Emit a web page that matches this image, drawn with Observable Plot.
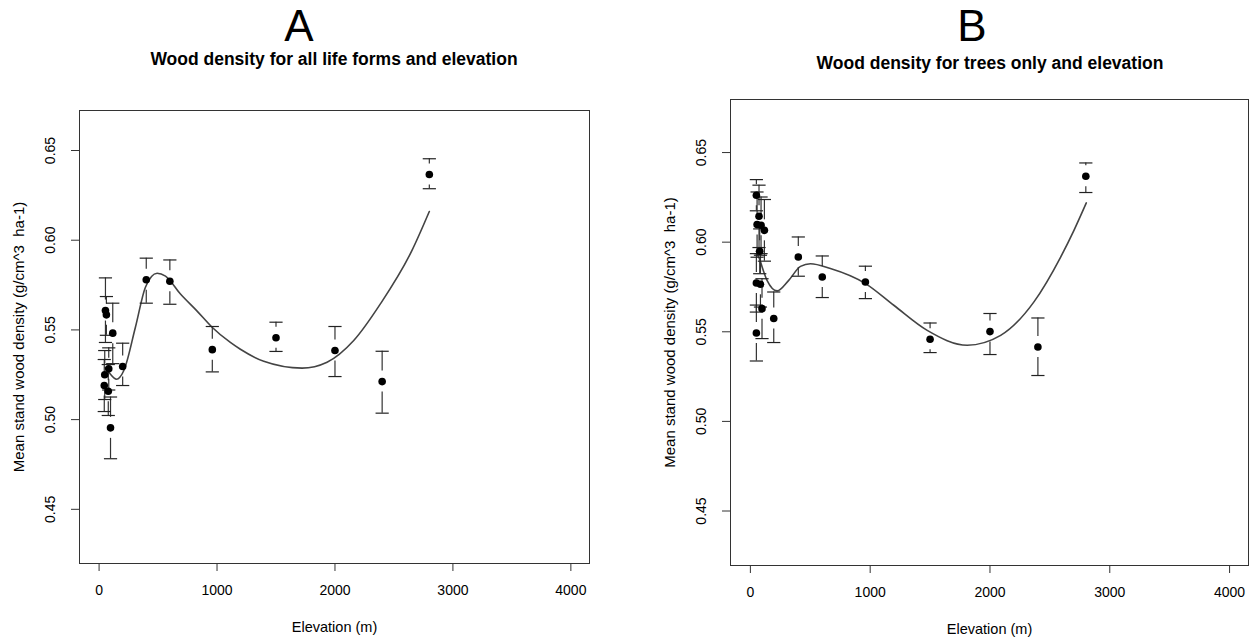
<!DOCTYPE html>
<html>
<head>
<meta charset="utf-8">
<script src="https://cdn.jsdelivr.net/npm/d3@7"></script>
<script src="https://cdn.jsdelivr.net/npm/@observablehq/plot@0.6"></script>
<style>
  html, body { margin: 0; padding: 0; background: #fff; }
  #page { position: relative; width: 1256px; height: 640px; overflow: hidden; font-family: "Liberation Sans", Arial, sans-serif; }
  .subtitle { position: absolute; font-weight: bold; font-size: 17.5px; line-height: 1; color: #000; transform: translateX(-50%); white-space: nowrap; }
  .panel, .letters { position: absolute; }
</style>
</head>
<body>
<div id="page"></div>
<script>
// Panel A: all life forms
const elevA = [54, 62, 116, 82, 48, 44, 78, 97, 200, 400, 600, 960, 1500, 2000, 2400, 2800];
const densA = [0.5608, 0.5584, 0.5482, 0.5283, 0.5250, 0.5190, 0.5158, 0.4954, 0.5296, 0.5780, 0.5771, 0.5390, 0.5456, 0.5385, 0.5212, 0.6366];
const lowA  = [0.5430, 0.5470, 0.5312, 0.5165, 0.5112, 0.5045, 0.5023, 0.4782, 0.5190, 0.5649, 0.5643, 0.5266, 0.5380, 0.5240, 0.5036, 0.6287];
const highA = [0.5790, 0.5686, 0.5649, 0.5400, 0.5385, 0.5335, 0.5307, 0.5126, 0.5426, 0.5900, 0.5890, 0.5519, 0.5543, 0.5519, 0.5381, 0.6454];
// fitted trend, panel A
const fitElevA = [50, 82, 148, 210, 308, 393, 492, 563, 690, 831, 958, 1113, 1198, 1396, 1721, 1933, 2159, 2385, 2653, 2800];
const fitDensA = [0.5290, 0.5264, 0.5225, 0.5274, 0.5515, 0.5738, 0.5816, 0.5800, 0.5700, 0.5605, 0.5515, 0.5430, 0.5392, 0.5325, 0.5287, 0.5320, 0.5441, 0.5645, 0.5943, 0.6160];

// Panel B: trees only
const elevB = [50, 72, 56, 89, 117, 78, 50, 84, 97, 50, 195, 400, 600, 960, 1500, 2000, 2400, 2800];
const densB = [0.6262, 0.6145, 0.6098, 0.6094, 0.6066, 0.5949, 0.5772, 0.5765, 0.5629, 0.5493, 0.5574, 0.5917, 0.5806, 0.5778, 0.5458, 0.5501, 0.5415, 0.6368];
const lowB  = [0.6175, 0.5970, 0.5916, 0.5936, 0.5894, 0.5824, 0.5610, 0.5638, 0.5462, 0.5337, 0.5440, 0.5810, 0.5691, 0.5685, 0.5384, 0.5373, 0.5256, 0.6277];
const highB = [0.6349, 0.6318, 0.6280, 0.6252, 0.6238, 0.6074, 0.5936, 0.5927, 0.5796, 0.5649, 0.5722, 0.6029, 0.5923, 0.5866, 0.5549, 0.5602, 0.5577, 0.6442];
// fitted trend, panel B
const fitElevB = [50, 70, 139, 223, 320, 418, 501, 668, 961, 1197, 1476, 1810, 2089, 2367, 2590, 2701, 2804];
const fitDensB = [0.5950, 0.5917, 0.5787, 0.5728, 0.5787, 0.5865, 0.5880, 0.5853, 0.5769, 0.5648, 0.5508, 0.5425, 0.5480, 0.5667, 0.5917, 0.6066, 0.6219];

// axis ticks and labels
const xTicks = [0, 1000, 2000, 3000, 4000];
const yTicks = [0.45, 0.50, 0.55, 0.60, 0.65];
const letters = ["A", "B"];
const subtitles = ["Wood density for all life forms and elevation", "Wood density for trees only and elevation"];
const xLabel = "Elevation (m)";
const yLabel = "Mean stand wood density (g/cm^3  ha-1)";

const zip = (e, d, lo, hi) => e.map((x, i) => ({elev: x, dens: d[i], lo: lo[i], hi: hi[i]}));
const zipFit = (e, d) => e.map((x, i) => ({elev: x, dens: d[i]}));

// horizontal bar used as the cap of each error bar
const capSymbol = {
  draw(ctx, size) {
    const w = Math.sqrt(size / Math.PI);
    ctx.moveTo(-w, 0);
    ctx.lineTo(w, 0);
  }
};

function panel({points, fit, width, height, margins, yDomain}) {
  const gap = 10.5; // blank space between a point and its error bar
  return Plot.plot({
    width, height,
    marginLeft: margins[0], marginRight: margins[1], marginTop: margins[2], marginBottom: margins[3],
    style: {fontFamily: "'Liberation Sans', Arial, sans-serif", fontSize: "14px", color: "#000", background: "#fff"},
    x: {domain: [-166, 4158], ticks: xTicks},
    y: {domain: yDomain, ticks: yTicks},
    marks: [
      Plot.frame({stroke: "#333", strokeWidth: 1}),
      Plot.axisX({ticks: xTicks, tickSize: 8, tickPadding: 14, stroke: "#333", label: null, fontSize: 14, tickFormat: d3.format("d")}),
      Plot.axisY({ticks: yTicks, tickSize: 8, tickPadding: 17, tickRotate: -90, stroke: "#333", label: null, fontSize: 14, tickFormat: d3.format(".2f")}),
      Plot.text([xLabel], {frameAnchor: "bottom", dy: 68, fontSize: 14.5}),
      Plot.text([yLabel], {frameAnchor: "left", dx: -60, rotate: -90, textAnchor: "middle", fontSize: 15}),
      Plot.line(fit, {x: "elev", y: "dens", stroke: "#444", strokeWidth: 1.6, curve: "monotone-x"}),
      Plot.ruleX(points, {x: "elev", y1: "hi", y2: "dens", insetBottom: gap, stroke: "#333", strokeWidth: 1.2}),
      Plot.ruleX(points, {x: "elev", y1: "dens", y2: "lo", insetTop: gap, stroke: "#333", strokeWidth: 1.2}),
      Plot.dot(points, {x: "elev", y: "hi", symbol: capSymbol, r: 6.6, stroke: "#222", strokeWidth: 1.2, fill: "none"}),
      Plot.dot(points, {x: "elev", y: "lo", symbol: capSymbol, r: 6.6, stroke: "#222", strokeWidth: 1.2, fill: "none"}),
      Plot.dot(points, {x: "elev", y: "dens", r: 3.8, fill: "#000", stroke: "none"})
    ]
  });
}

const page = document.getElementById("page");

function place(el, left, top) {
  el.classList.add("panel");
  el.style.left = left + "px";
  el.style.top = top + "px";
  page.appendChild(el);
}

function subtitle(text, x, y) {
  const d = document.createElement("div");
  d.className = "subtitle";
  d.textContent = text;
  d.style.left = x + "px";
  d.style.top = y + "px";
  page.appendChild(d);
}

// Panel letters across the top
const head = d3.create("svg").attr("class", "letters").attr("width", 1256).attr("height", 60)
  .style("left", "0px").style("top", "0px");
head.selectAll("text").data(letters).join("text")
  .attr("x", (d, i) => [299, 972][i])
  .attr("y", 40.5)
  .attr("text-anchor", "middle")
  .attr("font-family", "'Liberation Sans', Arial, sans-serif")
  .attr("font-size", 44)
  .attr("fill", "#000")
  .text(d => d);
page.appendChild(head.node());

// Panel A
place(panel({
  points: zip(elevA, densA, lowA, highA),
  fit: zipFit(fitElevA, fitDensA),
  width: 620, height: 550, margins: [79, 31, 20, 77],
  yDomain: [0.4198, 0.6723]
}), 0, 90);
subtitle(subtitles[0], 334, 51);

// Panel B
place(panel({
  points: zip(elevB, densB, lowB, highB),
  fit: zipFit(fitElevB, fitDensB),
  width: 626, height: 556, margins: [100, 8, 15, 75],
  yDomain: [0.4196, 0.6796]
}), 630, 84);
subtitle(subtitles[1], 990, 55);
</script>
</body>
</html>
